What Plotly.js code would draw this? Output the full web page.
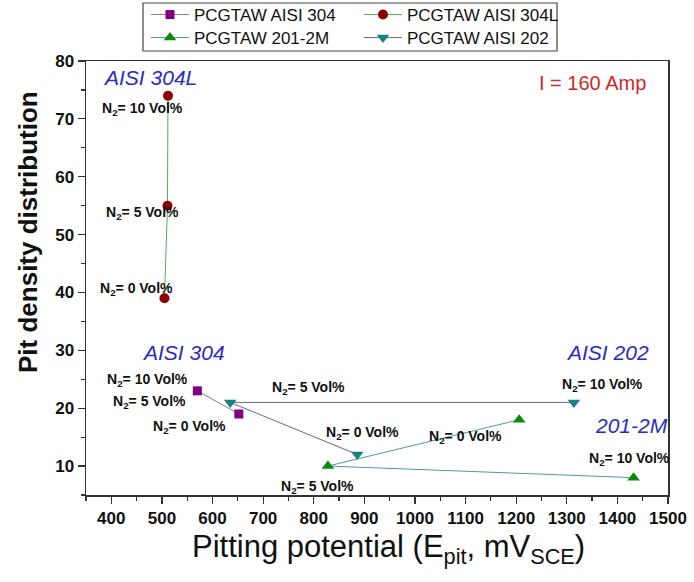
<!DOCTYPE html>
<html>
<head>
<meta charset="utf-8">
<script src="https://cdn.plot.ly/plotly-3.0.1.min.js"></script>
<style>html,body{margin:0;padding:0;background:#fff;}</style>
</head>
<body>
<div id="chart" style="width:694px;height:582px;"></div>
<script>
// Data (order: N2 = 0, 5, 10 Vol%)
const aisi304_x = [652, 570];
const aisi304_y = [19, 23];
const aisi304L_x = [505, 511, 512];
const aisi304L_y = [39, 55, 74];
const m2012M_x = [1206, 828, 1432];
const m2012M_y = [18, 10, 8];
const aisi202_x = [886, 635, 1314];
const aisi202_y = [12, 21, 21];

const seriesNames = ['PCGTAW AISI 304', 'PCGTAW AISI 304L', 'PCGTAW 201-2M', 'PCGTAW AISI 202'];

// Text labels
const noteTexts = ['N<sub>2</sub>= 10 Vol%', 'N<sub>2</sub>= 5 Vol%', 'N<sub>2</sub>= 0 Vol%',
  'N<sub>2</sub>= 10 Vol%', 'N<sub>2</sub>= 5 Vol%', 'N<sub>2</sub>= 0 Vol%',
  'N<sub>2</sub>= 5 Vol%', 'N<sub>2</sub>= 0 Vol%', 'N<sub>2</sub>= 10 Vol%',
  'N<sub>2</sub>= 5 Vol%', 'N<sub>2</sub>= 0 Vol%', 'N<sub>2</sub>= 10 Vol%'];
const noteX = [461, 461, 449, 471, 476, 555, 789, 897, 1370, 808, 1099, 1423];
const noteY = [71.7, 53.7, 40.6, 24.9, 21.1, 16.8, 23.5, 15.8, 24.0, 6.4, 15.1, 11.3];

const alloyTexts = ['AISI 304L', 'AISI 304', 'AISI 202', '201-2M'];
const alloyX = [476, 542, 1381, 1427];
const alloyY = [77.1, 29.6, 29.6, 17.0];

const xTicks = [400, 500, 600, 700, 800, 900, 1000, 1100, 1200, 1300, 1400, 1500];
const yTicks = [10, 20, 30, 40, 50, 60, 70, 80];

const xTitle = 'Pitting potential (E<sub>pit</sub>, mV<sub>SCE</sub>)';
const yTitle = '<b>Pit density distribution</b>';

const FONT = 'Liberation Sans, Arial, sans-serif';

const traces = [
  {x: aisi304_x, y: aisi304_y, name: seriesNames[0], mode: 'lines+markers', legend: 'legend',
   line: {color: '#a07878', width: 1}, marker: {symbol: 'square', size: 9, color: '#800080'}},
  {x: aisi304L_x, y: aisi304L_y, name: seriesNames[1], mode: 'lines+markers', legend: 'legend2',
   line: {color: '#5aa85a', width: 1}, marker: {symbol: 'circle', size: 10, color: '#8b0000'}},
  {x: m2012M_x, y: m2012M_y, name: seriesNames[2], mode: 'lines+markers', legend: 'legend3',
   line: {color: '#4a9e9e', width: 1}, marker: {symbol: 'triangle-up', size: 11, color: '#0a8a0a'}},
  {x: aisi202_x, y: aisi202_y, name: seriesNames[3], mode: 'lines+markers', legend: 'legend4',
   line: {color: '#6464a4', width: 1}, marker: {symbol: 'triangle-down', size: 11, color: '#1a8080'}}
];

const annotations = [];
for (let i = 0; i < noteTexts.length; i++) {
  annotations.push({x: noteX[i], y: noteY[i], xref: 'x', yref: 'y', text: '<b>' + noteTexts[i] + '</b>', showarrow: false,
    font: {family: FONT, size: 14, color: '#111'}});
}
for (let i = 0; i < alloyTexts.length; i++) {
  annotations.push({x: alloyX[i], y: alloyY[i], xref: 'x', yref: 'y', text: '<i>' + alloyTexts[i] + '</i>', showarrow: false,
    font: {family: FONT, size: 21, color: '#2a2ac8'}});
}
annotations.push({x: 1350, y: 76.2, xref: 'x', yref: 'y', text: 'I = 160 Amp', showarrow: false,
  font: {family: FONT, size: 20, color: '#cc2a2a'}});
// axis titles
annotations.push({x: (388 - 86) / 582, y: (495 - 549) / 434, xref: 'paper', yref: 'paper', xanchor: 'center', yanchor: 'middle',
  text: xTitle, showarrow: false, font: {family: FONT, size: 31, color: '#111'}});
annotations.push({x: (28 - 86) / 582, y: (495 - 232) / 434, xref: 'paper', yref: 'paper', xanchor: 'center', yanchor: 'middle',
  textangle: -90, text: yTitle, showarrow: false, font: {family: FONT, size: 26, color: '#111'}});

const legendFont = {family: FONT, size: 17, color: '#111'};
function mkLegend(xp, yp) {
  return {x: xp, y: yp, xanchor: 'left', yanchor: 'middle', orientation: 'v', itemwidth: 38,
    bgcolor: 'rgba(0,0,0,0)', borderwidth: 0, font: legendFont, tracegroupgap: 0};
}
const row1 = 1 + (61 - 15) / 434, row2 = 1 + (61 - 38) / 434;
const col1 = (146 - 86) / 582, col2 = (359 - 86) / 582;

const layout = {
  width: 694, height: 582,
  margin: {l: 86, r: 26, t: 61, b: 87, autoexpand: false},
  paper_bgcolor: '#fff', plot_bgcolor: '#fff',
  font: {family: FONT, color: '#111'},
  xaxis: {
    range: [350, 1500], tickvals: xTicks, ticktext: xTicks.map(v => '<b>' + v + '</b>'),
    ticks: 'outside', ticklen: 7, tickwidth: 1.2, tickcolor: '#333',
    minor: {dtick: 50, tick0: 350, ticks: 'outside', ticklen: 4, tickwidth: 1.2, tickcolor: '#333', showgrid: false},
    showgrid: false, zeroline: false, showline: true, mirror: true, linecolor: '#333', linewidth: 1.5,
    tickfont: {family: FONT, size: 17, color: '#111'}
  },
  yaxis: {
    range: [5, 80], tickvals: yTicks, ticktext: yTicks.map(v => '<b>' + v + '</b>'),
    ticks: 'outside', ticklen: 7, tickwidth: 1.2, tickcolor: '#333',
    minor: {dtick: 5, tick0: 5, ticks: 'outside', ticklen: 4, tickwidth: 1.2, tickcolor: '#333', showgrid: false},
    showgrid: false, zeroline: false, showline: true, mirror: true, linecolor: '#333', linewidth: 1.5,
    tickfont: {family: FONT, size: 17, color: '#111'}
  },
  legend: mkLegend(col1, row1),
  legend2: mkLegend(col2, row1),
  legend3: mkLegend(col1, row2),
  legend4: mkLegend(col2, row2),
  shapes: [{type: 'rect', xref: 'paper', yref: 'paper', x0: (143 - 86) / 582, x1: (557 - 86) / 582,
    y0: 1 + (61 - 51) / 434, y1: 1 + (61 - 3) / 434,
    line: {color: '#444', width: 1.2}, fillcolor: 'rgba(0,0,0,0)'}],
  annotations: annotations,
  showlegend: true
};

Plotly.newPlot('chart', traces, layout, {displayModeBar: false, staticPlot: true});
</script>
</body>
</html>
